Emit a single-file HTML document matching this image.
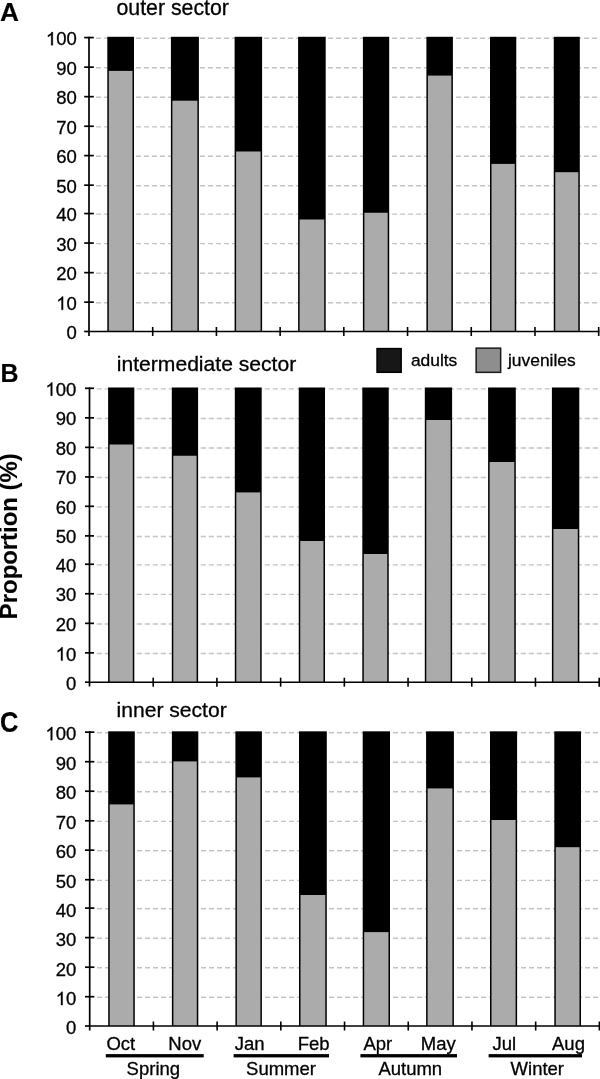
<!DOCTYPE html><html><head><meta charset="utf-8"><style>html,body{margin:0;padding:0;background:#fff;overflow:hidden}svg{display:block;will-change:transform}text{font-family:"Liberation Sans",sans-serif;stroke:#000;stroke-width:0.3px}</style></head><body>
<svg width="600" height="1079" viewBox="0 0 600 1079">
<rect width="600" height="1079" fill="#fff"/>
<line x1="96.1" y1="302.75" x2="600" y2="302.75" stroke="#c4c4c4" stroke-width="1.4" stroke-dasharray="5 3"/>
<line x1="96.1" y1="273.25" x2="600" y2="273.25" stroke="#c4c4c4" stroke-width="1.4" stroke-dasharray="5 3"/>
<line x1="96.1" y1="243.65" x2="600" y2="243.65" stroke="#c4c4c4" stroke-width="1.4" stroke-dasharray="5 3"/>
<line x1="96.1" y1="214.15" x2="600" y2="214.15" stroke="#c4c4c4" stroke-width="1.4" stroke-dasharray="5 3"/>
<line x1="96.1" y1="185.78" x2="600" y2="185.78" stroke="#c4c4c4" stroke-width="1.4" stroke-dasharray="5 3"/>
<line x1="96.1" y1="156.20" x2="600" y2="156.20" stroke="#c4c4c4" stroke-width="1.4" stroke-dasharray="5 3"/>
<line x1="96.1" y1="126.85" x2="600" y2="126.85" stroke="#c4c4c4" stroke-width="1.4" stroke-dasharray="5 3"/>
<line x1="96.1" y1="97.27" x2="600" y2="97.27" stroke="#c4c4c4" stroke-width="1.4" stroke-dasharray="5 3"/>
<line x1="96.1" y1="67.75" x2="600" y2="67.75" stroke="#c4c4c4" stroke-width="1.4" stroke-dasharray="5 3"/>
<line x1="96.1" y1="38.18" x2="600" y2="38.18" stroke="#c4c4c4" stroke-width="1.4" stroke-dasharray="5 3"/>
<rect x="107.30" y="36.78" width="26.70" height="294.70" fill="#000"/>
<rect x="108.80" y="70.90" width="23.70" height="260.58" fill="#ababab"/>
<rect x="170.90" y="36.78" width="28.00" height="294.70" fill="#000"/>
<rect x="172.40" y="100.70" width="25.00" height="230.78" fill="#ababab"/>
<rect x="234.60" y="36.78" width="27.50" height="294.70" fill="#000"/>
<rect x="236.10" y="151.50" width="24.50" height="179.98" fill="#ababab"/>
<rect x="298.10" y="36.78" width="27.60" height="294.70" fill="#000"/>
<rect x="299.60" y="219.50" width="24.60" height="111.98" fill="#ababab"/>
<rect x="362.90" y="36.78" width="26.30" height="294.70" fill="#000"/>
<rect x="364.40" y="212.75" width="23.30" height="118.73" fill="#ababab"/>
<rect x="426.40" y="36.78" width="26.50" height="294.70" fill="#000"/>
<rect x="427.90" y="75.60" width="23.50" height="255.88" fill="#ababab"/>
<rect x="490.00" y="36.78" width="26.25" height="294.70" fill="#000"/>
<rect x="491.50" y="163.90" width="23.25" height="167.58" fill="#ababab"/>
<rect x="553.75" y="36.78" width="26.05" height="294.70" fill="#000"/>
<rect x="555.25" y="172.20" width="23.05" height="159.28" fill="#ababab"/>
<line x1="89.0" y1="36.78" x2="89.0" y2="335.88" stroke="#000" stroke-width="1.7"/>
<line x1="89.0" y1="331.48" x2="599.5" y2="331.48" stroke="#000" stroke-width="1.6"/>
<line x1="84.2" y1="331.48" x2="89.0" y2="331.48" stroke="#000" stroke-width="1.7"/>
<line x1="84.2" y1="302.15" x2="93.8" y2="302.15" stroke="#000" stroke-width="1.7"/>
<line x1="84.2" y1="272.65" x2="93.8" y2="272.65" stroke="#000" stroke-width="1.7"/>
<line x1="84.2" y1="243.05" x2="93.8" y2="243.05" stroke="#000" stroke-width="1.7"/>
<line x1="84.2" y1="213.55" x2="93.8" y2="213.55" stroke="#000" stroke-width="1.7"/>
<line x1="84.2" y1="185.18" x2="93.8" y2="185.18" stroke="#000" stroke-width="1.7"/>
<line x1="84.2" y1="155.60" x2="93.8" y2="155.60" stroke="#000" stroke-width="1.7"/>
<line x1="84.2" y1="126.25" x2="93.8" y2="126.25" stroke="#000" stroke-width="1.7"/>
<line x1="84.2" y1="96.67" x2="93.8" y2="96.67" stroke="#000" stroke-width="1.7"/>
<line x1="84.2" y1="67.15" x2="93.8" y2="67.15" stroke="#000" stroke-width="1.7"/>
<line x1="84.2" y1="37.58" x2="93.8" y2="37.58" stroke="#000" stroke-width="1.7"/>
<line x1="152.71" y1="326.98" x2="152.71" y2="335.98" stroke="#000" stroke-width="1.6"/>
<line x1="216.42" y1="326.98" x2="216.42" y2="335.98" stroke="#000" stroke-width="1.6"/>
<line x1="280.13" y1="326.98" x2="280.13" y2="335.98" stroke="#000" stroke-width="1.6"/>
<line x1="343.84" y1="326.98" x2="343.84" y2="335.98" stroke="#000" stroke-width="1.6"/>
<line x1="407.55" y1="326.98" x2="407.55" y2="335.98" stroke="#000" stroke-width="1.6"/>
<line x1="471.26" y1="326.98" x2="471.26" y2="335.98" stroke="#000" stroke-width="1.6"/>
<line x1="534.97" y1="326.98" x2="534.97" y2="335.98" stroke="#000" stroke-width="1.6"/>
<line x1="598.68" y1="326.98" x2="598.68" y2="335.98" stroke="#000" stroke-width="1.6"/>
<text x="76.8" y="339.18" font-size="18.5" text-anchor="end">0</text>
<path d="M763 0L583 0L583 1147Q518 1085 415 1024Q312 963 221 929L221 1103Q386 1181 492.5 1277.5Q599 1374 645 1466L763 1466Z" fill="#000" stroke="#000" stroke-width="33" transform="translate(56.22,309.85) scale(0.009033,-0.009033)"/>
<text x="76.8" y="309.85" font-size="18.5" text-anchor="end">0</text>
<text x="76.8" y="280.35" font-size="18.5" text-anchor="end">20</text>
<text x="76.8" y="250.75" font-size="18.5" text-anchor="end">30</text>
<text x="76.8" y="221.25" font-size="18.5" text-anchor="end">40</text>
<text x="76.8" y="192.88" font-size="18.5" text-anchor="end">50</text>
<text x="76.8" y="163.30" font-size="18.5" text-anchor="end">60</text>
<text x="76.8" y="133.95" font-size="18.5" text-anchor="end">70</text>
<text x="76.8" y="104.37" font-size="18.5" text-anchor="end">80</text>
<text x="76.8" y="74.85" font-size="18.5" text-anchor="end">90</text>
<path d="M763 0L583 0L583 1147Q518 1085 415 1024Q312 963 221 929L221 1103Q386 1181 492.5 1277.5Q599 1374 645 1466L763 1466Z" fill="#000" stroke="#000" stroke-width="33" transform="translate(45.93,45.28) scale(0.009033,-0.009033)"/>
<text x="76.8" y="45.28" font-size="18.5" text-anchor="end">00</text>
<text x="116.5" y="15.0" font-size="21.3">outer sector</text>
<text transform="translate(-0.1,20.55) scale(1.0,1.0)" font-size="26.3" font-weight="bold" style="stroke-width:0.15px">A</text>
<line x1="96.8" y1="653.45" x2="600" y2="653.45" stroke="#c4c4c4" stroke-width="1.4" stroke-dasharray="5 3"/>
<line x1="96.8" y1="623.95" x2="600" y2="623.95" stroke="#c4c4c4" stroke-width="1.4" stroke-dasharray="5 3"/>
<line x1="96.8" y1="594.35" x2="600" y2="594.35" stroke="#c4c4c4" stroke-width="1.4" stroke-dasharray="5 3"/>
<line x1="96.8" y1="564.85" x2="600" y2="564.85" stroke="#c4c4c4" stroke-width="1.4" stroke-dasharray="5 3"/>
<line x1="96.8" y1="536.48" x2="600" y2="536.48" stroke="#c4c4c4" stroke-width="1.4" stroke-dasharray="5 3"/>
<line x1="96.8" y1="506.90" x2="600" y2="506.90" stroke="#c4c4c4" stroke-width="1.4" stroke-dasharray="5 3"/>
<line x1="96.8" y1="477.55" x2="600" y2="477.55" stroke="#c4c4c4" stroke-width="1.4" stroke-dasharray="5 3"/>
<line x1="96.8" y1="447.97" x2="600" y2="447.97" stroke="#c4c4c4" stroke-width="1.4" stroke-dasharray="5 3"/>
<line x1="96.8" y1="418.45" x2="600" y2="418.45" stroke="#c4c4c4" stroke-width="1.4" stroke-dasharray="5 3"/>
<line x1="96.8" y1="388.88" x2="600" y2="388.88" stroke="#c4c4c4" stroke-width="1.4" stroke-dasharray="5 3"/>
<rect x="108.10" y="387.48" width="26.20" height="294.70" fill="#000"/>
<rect x="109.60" y="444.50" width="23.20" height="237.68" fill="#ababab"/>
<rect x="171.80" y="387.48" width="26.30" height="294.70" fill="#000"/>
<rect x="173.30" y="455.75" width="23.30" height="226.43" fill="#ababab"/>
<rect x="234.80" y="387.48" width="26.90" height="294.70" fill="#000"/>
<rect x="236.30" y="492.40" width="23.90" height="189.78" fill="#ababab"/>
<rect x="298.75" y="387.48" width="26.25" height="294.70" fill="#000"/>
<rect x="300.25" y="541.00" width="23.25" height="141.18" fill="#ababab"/>
<rect x="362.30" y="387.48" width="26.45" height="294.70" fill="#000"/>
<rect x="363.80" y="554.00" width="23.45" height="128.18" fill="#ababab"/>
<rect x="424.80" y="387.48" width="27.30" height="294.70" fill="#000"/>
<rect x="426.30" y="420.00" width="24.30" height="262.18" fill="#ababab"/>
<rect x="488.10" y="387.48" width="27.70" height="294.70" fill="#000"/>
<rect x="489.60" y="462.00" width="24.70" height="220.18" fill="#ababab"/>
<rect x="551.90" y="387.48" width="27.40" height="294.70" fill="#000"/>
<rect x="553.40" y="529.00" width="24.40" height="153.18" fill="#ababab"/>
<line x1="89.5" y1="387.48" x2="89.5" y2="686.58" stroke="#000" stroke-width="1.7"/>
<line x1="89.5" y1="682.18" x2="599.5" y2="682.18" stroke="#000" stroke-width="1.6"/>
<line x1="85.0" y1="682.18" x2="89.5" y2="682.18" stroke="#000" stroke-width="1.7"/>
<line x1="85.0" y1="652.85" x2="94.0" y2="652.85" stroke="#000" stroke-width="1.7"/>
<line x1="85.0" y1="623.35" x2="94.0" y2="623.35" stroke="#000" stroke-width="1.7"/>
<line x1="85.0" y1="593.75" x2="94.0" y2="593.75" stroke="#000" stroke-width="1.7"/>
<line x1="85.0" y1="564.25" x2="94.0" y2="564.25" stroke="#000" stroke-width="1.7"/>
<line x1="85.0" y1="535.88" x2="94.0" y2="535.88" stroke="#000" stroke-width="1.7"/>
<line x1="85.0" y1="506.30" x2="94.0" y2="506.30" stroke="#000" stroke-width="1.7"/>
<line x1="85.0" y1="476.95" x2="94.0" y2="476.95" stroke="#000" stroke-width="1.7"/>
<line x1="85.0" y1="447.37" x2="94.0" y2="447.37" stroke="#000" stroke-width="1.7"/>
<line x1="85.0" y1="417.85" x2="94.0" y2="417.85" stroke="#000" stroke-width="1.7"/>
<line x1="85.0" y1="388.28" x2="94.0" y2="388.28" stroke="#000" stroke-width="1.7"/>
<line x1="153.21" y1="677.68" x2="153.21" y2="686.68" stroke="#000" stroke-width="1.6"/>
<line x1="216.92" y1="677.68" x2="216.92" y2="686.68" stroke="#000" stroke-width="1.6"/>
<line x1="280.63" y1="677.68" x2="280.63" y2="686.68" stroke="#000" stroke-width="1.6"/>
<line x1="344.34" y1="677.68" x2="344.34" y2="686.68" stroke="#000" stroke-width="1.6"/>
<line x1="408.05" y1="677.68" x2="408.05" y2="686.68" stroke="#000" stroke-width="1.6"/>
<line x1="471.76" y1="677.68" x2="471.76" y2="686.68" stroke="#000" stroke-width="1.6"/>
<line x1="535.47" y1="677.68" x2="535.47" y2="686.68" stroke="#000" stroke-width="1.6"/>
<line x1="599.18" y1="677.68" x2="599.18" y2="686.68" stroke="#000" stroke-width="1.6"/>
<text x="76.3" y="689.88" font-size="18.5" text-anchor="end">0</text>
<path d="M763 0L583 0L583 1147Q518 1085 415 1024Q312 963 221 929L221 1103Q386 1181 492.5 1277.5Q599 1374 645 1466L763 1466Z" fill="#000" stroke="#000" stroke-width="33" transform="translate(55.72,660.55) scale(0.009033,-0.009033)"/>
<text x="76.3" y="660.55" font-size="18.5" text-anchor="end">0</text>
<text x="76.3" y="631.05" font-size="18.5" text-anchor="end">20</text>
<text x="76.3" y="601.45" font-size="18.5" text-anchor="end">30</text>
<text x="76.3" y="571.95" font-size="18.5" text-anchor="end">40</text>
<text x="76.3" y="543.28" font-size="18.5" text-anchor="end">50</text>
<text x="76.3" y="513.70" font-size="18.5" text-anchor="end">60</text>
<text x="76.3" y="484.35" font-size="18.5" text-anchor="end">70</text>
<text x="76.3" y="454.77" font-size="18.5" text-anchor="end">80</text>
<text x="76.3" y="425.25" font-size="18.5" text-anchor="end">90</text>
<path d="M763 0L583 0L583 1147Q518 1085 415 1024Q312 963 221 929L221 1103Q386 1181 492.5 1277.5Q599 1374 645 1466L763 1466Z" fill="#000" stroke="#000" stroke-width="33" transform="translate(45.43,395.68) scale(0.009033,-0.009033)"/>
<text x="76.3" y="395.68" font-size="18.5" text-anchor="end">00</text>
<text x="116.8" y="370.5" font-size="21.1">intermediate sector</text>
<text transform="translate(0.6,382.0) scale(0.95,1.0)" font-size="26.3" font-weight="bold" style="stroke-width:0.15px">B</text>
<line x1="97.0" y1="997.30" x2="600" y2="997.30" stroke="#c4c4c4" stroke-width="1.4" stroke-dasharray="5 3"/>
<line x1="97.0" y1="967.80" x2="600" y2="967.80" stroke="#c4c4c4" stroke-width="1.4" stroke-dasharray="5 3"/>
<line x1="97.0" y1="938.20" x2="600" y2="938.20" stroke="#c4c4c4" stroke-width="1.4" stroke-dasharray="5 3"/>
<line x1="97.0" y1="908.70" x2="600" y2="908.70" stroke="#c4c4c4" stroke-width="1.4" stroke-dasharray="5 3"/>
<line x1="97.0" y1="880.33" x2="600" y2="880.33" stroke="#c4c4c4" stroke-width="1.4" stroke-dasharray="5 3"/>
<line x1="97.0" y1="850.75" x2="600" y2="850.75" stroke="#c4c4c4" stroke-width="1.4" stroke-dasharray="5 3"/>
<line x1="97.0" y1="821.40" x2="600" y2="821.40" stroke="#c4c4c4" stroke-width="1.4" stroke-dasharray="5 3"/>
<line x1="97.0" y1="791.82" x2="600" y2="791.82" stroke="#c4c4c4" stroke-width="1.4" stroke-dasharray="5 3"/>
<line x1="97.0" y1="762.30" x2="600" y2="762.30" stroke="#c4c4c4" stroke-width="1.4" stroke-dasharray="5 3"/>
<line x1="97.0" y1="732.73" x2="600" y2="732.73" stroke="#c4c4c4" stroke-width="1.4" stroke-dasharray="5 3"/>
<rect x="108.20" y="731.33" width="26.60" height="294.70" fill="#000"/>
<rect x="109.70" y="804.40" width="23.60" height="221.63" fill="#ababab"/>
<rect x="171.90" y="731.33" width="26.40" height="294.70" fill="#000"/>
<rect x="173.40" y="761.40" width="23.40" height="264.63" fill="#ababab"/>
<rect x="235.40" y="731.33" width="26.50" height="294.70" fill="#000"/>
<rect x="236.90" y="777.40" width="23.50" height="248.63" fill="#ababab"/>
<rect x="299.00" y="731.33" width="27.80" height="294.70" fill="#000"/>
<rect x="300.50" y="895.00" width="24.80" height="131.03" fill="#ababab"/>
<rect x="362.70" y="731.33" width="27.30" height="294.70" fill="#000"/>
<rect x="364.20" y="932.10" width="24.30" height="93.93" fill="#ababab"/>
<rect x="426.10" y="731.33" width="27.80" height="294.70" fill="#000"/>
<rect x="427.60" y="788.40" width="24.80" height="237.63" fill="#ababab"/>
<rect x="490.00" y="731.33" width="27.10" height="294.70" fill="#000"/>
<rect x="491.50" y="820.00" width="24.10" height="206.03" fill="#ababab"/>
<rect x="554.30" y="731.33" width="26.70" height="294.70" fill="#000"/>
<rect x="555.80" y="847.20" width="23.70" height="178.83" fill="#ababab"/>
<line x1="89.7" y1="731.33" x2="89.7" y2="1030.43" stroke="#000" stroke-width="1.7"/>
<line x1="89.7" y1="1026.03" x2="599.5" y2="1026.03" stroke="#000" stroke-width="1.6"/>
<line x1="85.0" y1="1026.03" x2="89.7" y2="1026.03" stroke="#000" stroke-width="1.7"/>
<line x1="85.0" y1="996.70" x2="94.4" y2="996.70" stroke="#000" stroke-width="1.7"/>
<line x1="85.0" y1="967.20" x2="94.4" y2="967.20" stroke="#000" stroke-width="1.7"/>
<line x1="85.0" y1="937.60" x2="94.4" y2="937.60" stroke="#000" stroke-width="1.7"/>
<line x1="85.0" y1="908.10" x2="94.4" y2="908.10" stroke="#000" stroke-width="1.7"/>
<line x1="85.0" y1="879.73" x2="94.4" y2="879.73" stroke="#000" stroke-width="1.7"/>
<line x1="85.0" y1="850.15" x2="94.4" y2="850.15" stroke="#000" stroke-width="1.7"/>
<line x1="85.0" y1="820.80" x2="94.4" y2="820.80" stroke="#000" stroke-width="1.7"/>
<line x1="85.0" y1="791.22" x2="94.4" y2="791.22" stroke="#000" stroke-width="1.7"/>
<line x1="85.0" y1="761.70" x2="94.4" y2="761.70" stroke="#000" stroke-width="1.7"/>
<line x1="85.0" y1="732.13" x2="94.4" y2="732.13" stroke="#000" stroke-width="1.7"/>
<line x1="153.41" y1="1021.53" x2="153.41" y2="1030.53" stroke="#000" stroke-width="1.6"/>
<line x1="217.12" y1="1021.53" x2="217.12" y2="1030.53" stroke="#000" stroke-width="1.6"/>
<line x1="280.83" y1="1021.53" x2="280.83" y2="1030.53" stroke="#000" stroke-width="1.6"/>
<line x1="344.54" y1="1021.53" x2="344.54" y2="1030.53" stroke="#000" stroke-width="1.6"/>
<line x1="408.25" y1="1021.53" x2="408.25" y2="1030.53" stroke="#000" stroke-width="1.6"/>
<line x1="471.96" y1="1021.53" x2="471.96" y2="1030.53" stroke="#000" stroke-width="1.6"/>
<line x1="535.67" y1="1021.53" x2="535.67" y2="1030.53" stroke="#000" stroke-width="1.6"/>
<line x1="599.38" y1="1021.53" x2="599.38" y2="1030.53" stroke="#000" stroke-width="1.6"/>
<text x="76.3" y="1034.43" font-size="18.5" text-anchor="end">0</text>
<path d="M763 0L583 0L583 1147Q518 1085 415 1024Q312 963 221 929L221 1103Q386 1181 492.5 1277.5Q599 1374 645 1466L763 1466Z" fill="#000" stroke="#000" stroke-width="33" transform="translate(55.72,1005.10) scale(0.009033,-0.009033)"/>
<text x="76.3" y="1005.10" font-size="18.5" text-anchor="end">0</text>
<text x="76.3" y="975.60" font-size="18.5" text-anchor="end">20</text>
<text x="76.3" y="946.00" font-size="18.5" text-anchor="end">30</text>
<text x="76.3" y="916.50" font-size="18.5" text-anchor="end">40</text>
<text x="76.3" y="887.73" font-size="18.5" text-anchor="end">50</text>
<text x="76.3" y="858.15" font-size="18.5" text-anchor="end">60</text>
<text x="76.3" y="828.80" font-size="18.5" text-anchor="end">70</text>
<text x="76.3" y="799.22" font-size="18.5" text-anchor="end">80</text>
<text x="76.3" y="769.70" font-size="18.5" text-anchor="end">90</text>
<path d="M763 0L583 0L583 1147Q518 1085 415 1024Q312 963 221 929L221 1103Q386 1181 492.5 1277.5Q599 1374 645 1466L763 1466Z" fill="#000" stroke="#000" stroke-width="33" transform="translate(45.43,740.13) scale(0.009033,-0.009033)"/>
<text x="76.3" y="740.13" font-size="18.5" text-anchor="end">00</text>
<text x="116.5" y="717.2" font-size="21.1">inner sector</text>
<text transform="translate(0.0,731.8) scale(0.97,1.15)" font-size="26.3" font-weight="bold" style="stroke-width:0.15px">C</text>
<rect x="377.05" y="348.6" width="24.1" height="23.7" fill="#171717" stroke="#000" stroke-width="1.5"/>
<text x="410.9" y="366.0" font-size="17.4">adults</text>
<rect x="476.15" y="348.15" width="24.5" height="24.2" fill="#8e8e8e" stroke="#1a1a1a" stroke-width="1.5"/>
<text x="508.0" y="365.7" font-size="17.4">juveniles</text>
<text transform="translate(17,619.2) rotate(-90)" x="0" y="0" font-size="23.9" font-weight="bold" style="stroke-width:0.1px">Proportion (%)</text>
<text x="120.85" y="1050.2" font-size="18.5" text-anchor="middle">Oct</text>
<text x="184.75" y="1050.2" font-size="18.5" text-anchor="middle">Nov</text>
<text x="249.70" y="1050.2" font-size="18.5" text-anchor="middle">Jan</text>
<text x="313.70" y="1050.2" font-size="18.5" text-anchor="middle">Feb</text>
<text x="377.80" y="1050.2" font-size="18.5" text-anchor="middle">Apr</text>
<text x="438.30" y="1050.2" font-size="18.5" text-anchor="middle">May</text>
<text x="504.30" y="1050.2" font-size="18.5" text-anchor="middle">Jul</text>
<text x="568.50" y="1050.2" font-size="18.5" text-anchor="middle">Aug</text>
<rect x="105.8" y="1054.1" width="97.90" height="3.3" fill="#000"/>
<text x="153.35" y="1074.6" font-size="18.5" text-anchor="middle">Spring</text>
<rect x="233.6" y="1054.1" width="95.40" height="3.3" fill="#000"/>
<text x="281.00" y="1074.6" font-size="18.5" text-anchor="middle">Summer</text>
<rect x="360.4" y="1054.1" width="96.60" height="3.3" fill="#000"/>
<text x="410.30" y="1074.6" font-size="18.5" text-anchor="middle">Autumn</text>
<rect x="488.6" y="1054.1" width="93.40" height="3.3" fill="#000"/>
<text x="537.30" y="1074.6" font-size="18.5" text-anchor="middle">Winter</text>
</svg></body></html>
